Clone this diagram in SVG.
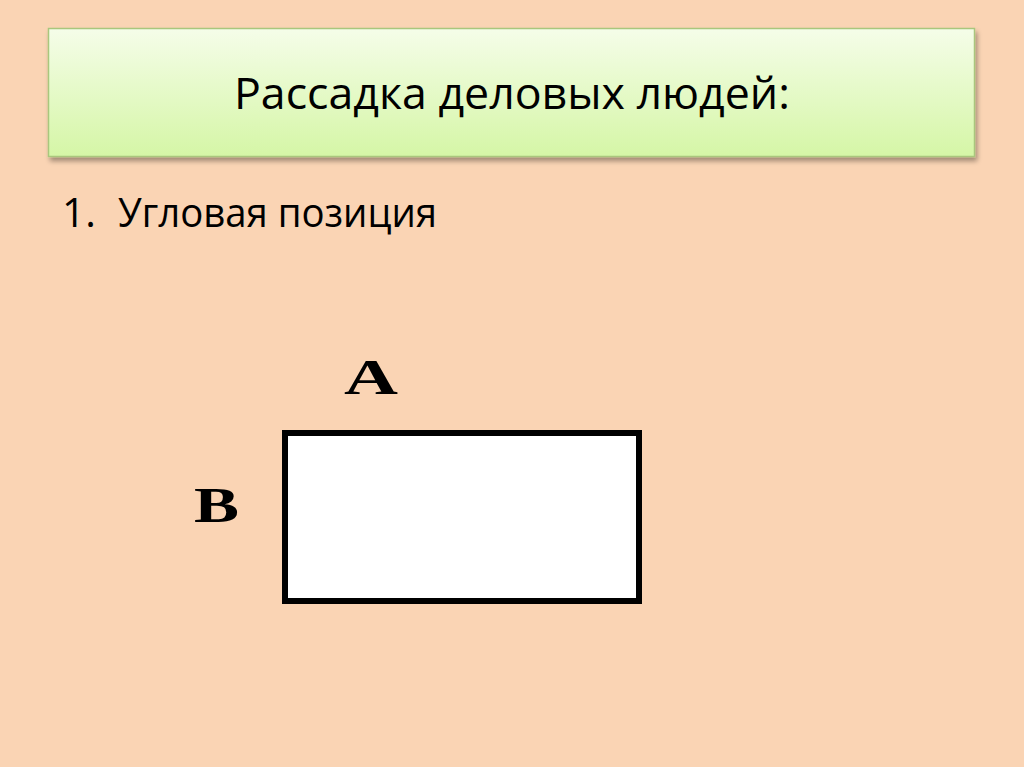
<svg xmlns="http://www.w3.org/2000/svg" width="1024" height="767" viewBox="0 0 1024 767">
  <defs>
    <linearGradient id="titleGrad" x1="0" y1="0" x2="0" y2="1">
      <stop offset="0" stop-color="#F5FDE9"/>
      <stop offset="1" stop-color="#D5F6A6"/>
    </linearGradient>
    <filter id="shadow" x="-5%" y="-20%" width="110%" height="150%">
      <feGaussianBlur in="SourceAlpha" stdDeviation="2.5"/>
      <feOffset dx="2" dy="4" result="b"/>
      <feComponentTransfer><feFuncA type="linear" slope="0.35"/></feComponentTransfer>
      <feMerge><feMergeNode/><feMergeNode in="SourceGraphic"/></feMerge>
    </filter>
    <style>
      .txt { font-family: "Open Sans", "Liberation Sans", sans-serif; fill: #000; }
      .lbl { font-family: "Liberation Serif", "DejaVu Serif", serif; font-weight: bold; fill: #000; font-size: 51px; }
    </style>
  </defs>
  <rect x="0" y="0" width="1024" height="767" fill="#FAD4B4"/>
  <g id="title">
    <rect x="48.5" y="28.5" width="926" height="128" fill="url(#titleGrad)" stroke="#A9C67D" stroke-width="1.5" filter="url(#shadow)"/>
    <text class="txt" x="234" y="109" font-size="43" textLength="556" lengthAdjust="spacingAndGlyphs">Рассадка деловых людей:</text>
  </g>
  <g id="subtitle">
    <text class="txt" y="227" font-size="40.5"><tspan x="62">1.</tspan><tspan x="118" textLength="319" lengthAdjust="spacingAndGlyphs">Угловая позиция</tspan></text>
  </g>
  <g id="connectors"/>
  <g id="table">
    <rect x="285" y="433" width="354" height="168" fill="#FFFFFF" stroke="#000000" stroke-width="6"/>
  </g>
  <g id="seatA">
    <text class="lbl" x="344" y="394" textLength="54" lengthAdjust="spacingAndGlyphs">A</text>
  </g>
  <g id="seatB">
    <text class="lbl" x="194" y="522" textLength="45" lengthAdjust="spacingAndGlyphs">B</text>
  </g>
</svg>
